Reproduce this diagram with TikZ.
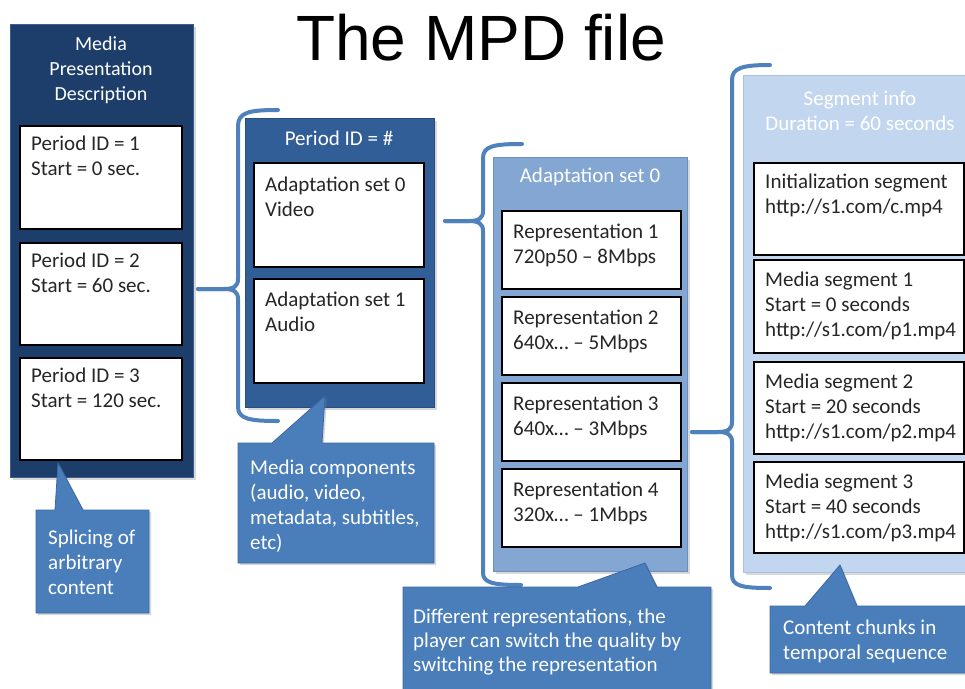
\documentclass[tikz,border=0pt]{standalone}
\usepackage{fontspec}
\setmainfont{Carlito}
\newfontfamily\titlefont{Liberation Sans}
\usetikzlibrary{shadows}

\definecolor{mpdblue}{HTML}{1D3D6B}
\definecolor{mpdedge}{HTML}{3B5E8E}
\definecolor{perblue}{HTML}{325E97}
\definecolor{peredge}{HTML}{284E80}
\definecolor{adablue}{HTML}{84A6D3}
\definecolor{adaedge}{HTML}{6C8FC0}
\definecolor{segblue}{HTML}{C3D6EF}
\definecolor{segedge}{HTML}{A9C0E0}
\definecolor{callblue}{HTML}{4A7EBB}
\definecolor{calledge}{HTML}{3A68A2}
\definecolor{bracecol}{HTML}{4F81BD}

\begin{document}
\begin{tikzpicture}[x=1pt,y=-1pt,
  frame/.style={anchor=north west, inner sep=0pt, outer sep=0pt, line width=0.8pt,
    drop shadow={shadow xshift=2.5pt, shadow yshift=-2.5pt, opacity=0.3}},
  itembox/.style={anchor=north west, inner sep=0pt, outer sep=0pt, draw=black,
    fill=white, line width=2.4pt},
  itemtext/.style={anchor=north west, inner sep=0pt, align=left, text=black!85,
    font=\fontsize{21}{25}\selectfont},
  headtext/.style={anchor=north, inner sep=0pt, align=center, text=white,
    font=\fontsize{20}{25}\selectfont},
  calltext/.style={anchor=north west, inner sep=0pt, align=left, text=white,
    font=\fontsize{21}{25}\selectfont},
  callout/.style={fill=callblue, draw=calledge, line width=0.8pt,
    drop shadow={shadow xshift=2pt, shadow yshift=-2pt, opacity=0.3}},
  bracket/.style={draw=bracecol, line width=4pt, line cap=round, line join=round},
]
\useasboundingbox (0,0) rectangle (965,688);
\fill[white] (0,0) rectangle (965,688);
\clip (0,0) rectangle (965,688);

% heading
\node[anchor=base, inner sep=0pt, font=\titlefont\fontsize{64}{70}\selectfont]
  (title) at (481,60) {The MPD file};

% ---------- Media Presentation Description ----------
\node[frame, fill=mpdblue, draw=mpdedge, minimum width=183pt, minimum height=453pt]
  (mpd) at (10,24) {};
\node[headtext] (mpdhead) at (101,36) {Media\\Presentation\\Description};
\node[itembox, minimum width=162pt, minimum height=103pt] (p1) at (20,126) {};
\node[itembox, minimum width=162pt, minimum height=102pt] (p2) at (20,243) {};
\node[itembox, minimum width=162pt, minimum height=102pt] (p3) at (20,358) {};
\node[itemtext] (p1t) at (31,136) {Period ID = 1\\Start = 0 sec.};
\node[itemtext] (p2t) at (31,253) {Period ID = 2\\Start = 60 sec.};
\node[itemtext] (p3t) at (31,368) {Period ID = 3\\Start = 120 sec.};

% ---------- Period ----------
\node[frame, fill=perblue, draw=peredge, minimum width=189pt, minimum height=289pt]
  (per) at (245,118) {};
\node[headtext, font=\fontsize{21}{25}\selectfont] (perhead) at (339,131) {Period ID = \#};
\node[itembox, minimum width=170pt, minimum height=104pt] (a0) at (254,163) {};
\node[itembox, minimum width=170pt, minimum height=104pt] (a1) at (254,279) {};
\node[itemtext] (a0t) at (265,177) {Adaptation set 0\\Video};
\node[itemtext] (a1t) at (265,292) {Adaptation set 1\\Audio};

% ---------- Adaptation set ----------
\node[frame, fill=adablue, draw=adaedge, minimum width=194pt, minimum height=414pt]
  (ada) at (493,157) {};
\node[headtext, font=\fontsize{21}{25}\selectfont] (adahead) at (590,168) {Adaptation set 0};
\node[itembox, minimum width=179pt, minimum height=78pt] (r1) at (502,211) {};
\node[itembox, minimum width=179pt, minimum height=78pt] (r2) at (502,297) {};
\node[itembox, minimum width=179pt, minimum height=78pt] (r3) at (502,383) {};
\node[itembox, minimum width=179pt, minimum height=78pt] (r4) at (502,469) {};
\node[itemtext] (r1t) at (513,224) {Representation 1\\720p50 – 8Mbps};
\node[itemtext] (r2t) at (513,310) {Representation 2\\640x… – 5Mbps};
\node[itemtext] (r3t) at (513,396) {Representation 3\\640x… – 3Mbps};
\node[itemtext] (r4t) at (513,482) {Representation 4\\320x… – 1Mbps};

% ---------- Segment info ----------
\node[frame, fill=segblue, draw=segedge, minimum width=234pt, minimum height=497pt]
  (seg) at (743,75) {};
\node[headtext, font=\fontsize{21}{25}\selectfont] (seghead) at (860,91) {Segment info\\Duration = 60 seconds};
\node[itembox, minimum width=210pt, minimum height=92pt] (s0) at (754,163) {};
\node[itembox, minimum width=210pt, minimum height=93pt] (s1) at (754,260) {};
\node[itembox, minimum width=210pt, minimum height=92pt] (s2) at (754,362) {};
\node[itembox, minimum width=210pt, minimum height=91pt] (s3) at (754,462) {};
\node[itemtext] (s0t) at (765,174) {Initialization segment\\http://s1.com/c.mp4};
\node[itemtext] (s1t) at (765,272) {Media segment 1\\Start = 0 seconds\\http://s1.com/p1.mp4};
\node[itemtext] (s2t) at (765,374) {Media segment 2\\Start = 20 seconds\\http://s1.com/p2.mp4};
\node[itemtext] (s3t) at (765,474) {Media segment 3\\Start = 40 seconds\\http://s1.com/p3.mp4};

% ---------- braces linking each level to the next ----------
\coordinate (perTip) at (198,289);
\coordinate (adaTip) at (445,221);
\coordinate (segTip) at (692,432);
\draw[bracket] (278,110) .. controls (250,110) and (238,112) .. (238,126)
  -- (238,279) .. controls (238,286) and (234,289) .. (224,289) -- (perTip);
\draw[bracket] (perTip) -- (224,289) .. controls (234,289) and (238,292) .. (238,299)
  -- (238,407) .. controls (238,419) and (250,421) .. (278,421);
\draw[bracket] (522,144) .. controls (494,144) and (483,146) .. (483,158)
  -- (483,211) .. controls (483,218) and (479,221) .. (469,221) -- (adaTip);
\draw[bracket] (adaTip) -- (469,221) .. controls (479,221) and (483,224) .. (483,231)
  -- (483,573) .. controls (483,583) and (494,585) .. (521,585);
\draw[bracket] (770,65) .. controls (742,65) and (732,68) .. (732,80)
  -- (732,422) .. controls (732,429) and (728,432) .. (718,432) -- (segTip);
\draw[bracket] (segTip) -- (718,432) .. controls (728,432) and (732,435) .. (732,442)
  -- (732,575) .. controls (732,586) and (742,588) .. (770,588);

% ---------- callouts ----------
\path[callout] (36,510) -- (55,510) -- (58,463) -- (83,510) -- (149,510)
  -- (149,613) -- (36,613) -- cycle;
\node[calltext] (c1t) at (48,530) {Splicing of\\arbitrary\\content};

\path[callout] (238,443) -- (272,443) -- (325,396) -- (322,443) -- (434,443)
  -- (434,563) -- (238,563) -- cycle;
\node[calltext] (c2t) at (250,460) {Media components\\(audio, video,\\metadata, subtitles,\\etc)};

\path[callout] (403,587) -- (578,587) -- (645,563) -- (657,587) -- (711,587)
  -- (711,700) -- (403,700) -- cycle;
\node[calltext, font=\fontsize{21}{24}\selectfont] (c3t) at (413,609)
  {Different representations, the\\player can switch the quality by\\switching the representation};

\path[callout] (770,606) -- (805,606) -- (840,565) -- (857,606) -- (980,606)
  -- (980,673) -- (770,673) -- cycle;
\node[calltext] (c4t) at (783,620) {Content chunks in\\temporal sequence};
\end{tikzpicture}
\end{document}
